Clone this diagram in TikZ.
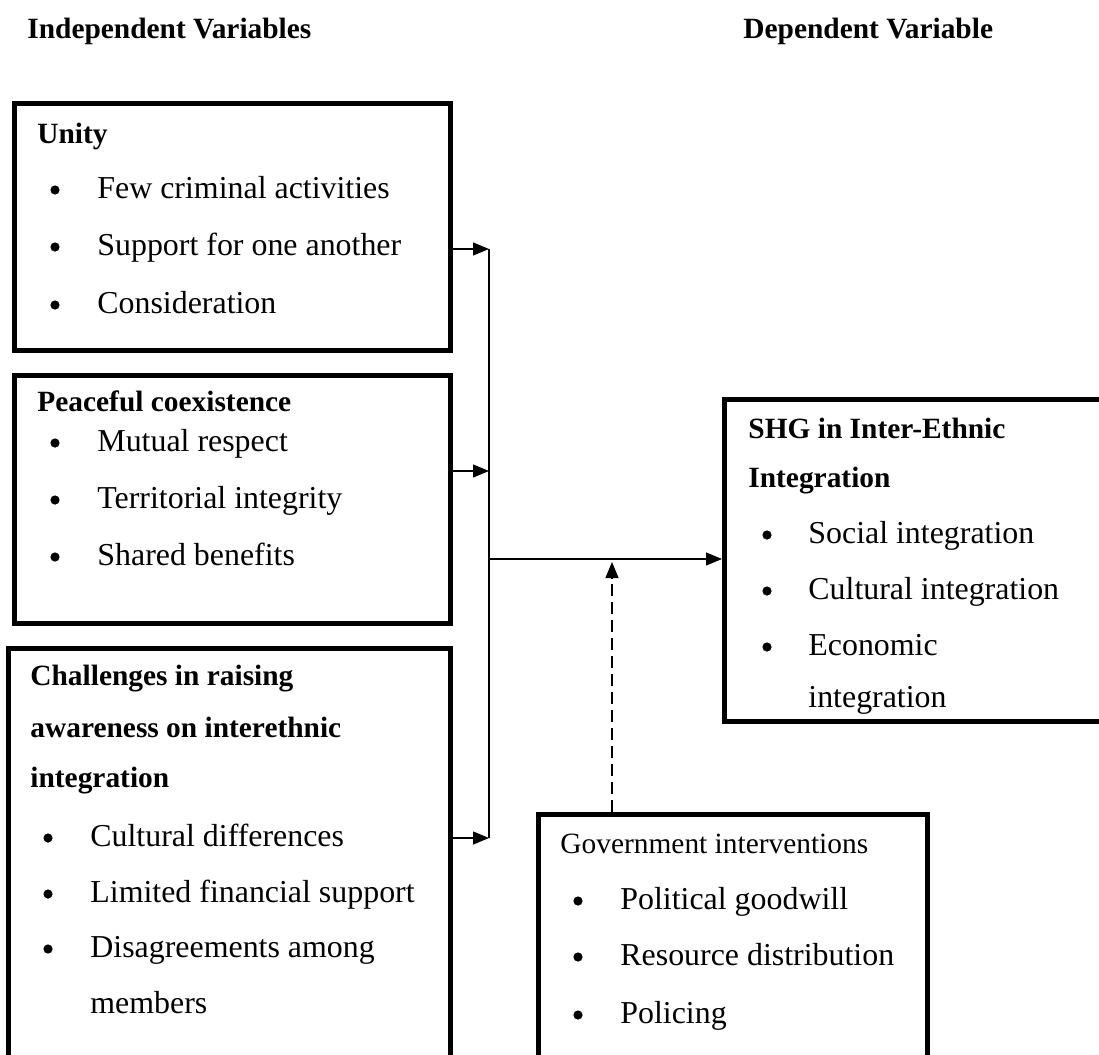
\documentclass[tikz,border=0pt]{standalone}
\usepackage{fontspec}
\setmainfont{Liberation Serif}
\usetikzlibrary{arrows.meta,fit}

\tikzset{
  box/.style={draw, line width=2.5pt, inner sep=0pt},
  lbl/.style={anchor=base west, inner sep=0pt, font=\fontsize{14.7}{17}\selectfont},
  item/.style={anchor=base west, inner sep=0pt, font=\fontsize{15.95}{19}\selectfont},
  head/.style={anchor=base west, inner sep=0pt, font=\fontsize{14.7}{17}\selectfont\bfseries},
  dot/.style={circle, fill, inner sep=0pt, minimum size=4.6pt, yshift=4pt},
  arr/.style={-{Triangle[length=8pt,width=6.5pt]}, line width=0.6pt},
}

\begin{document}
\begin{tikzpicture}[x=0.5pt, y=-0.5pt]
    \useasboundingbox (0,0) rectangle (1099,1055);
    \clip (0,0) rectangle (1099,1055);

    % headings
    \node[head] (indep) at (27,38) {Independent Variables};
    \node[head] (dep) at (743,38) {Dependent Variable};

    % boxes
    \node[box, fit={(14.5,103.5) (450,350)}] (unity) {};
    \node[box, fit={(14.5,375.5) (450,623)}] (peace) {};
    \node[box, fit={(8.5,648.5) (450,1100)}] (chall) {};
    \node[box, fit={(724.5,399.5) (1120,721)}] (shg) {};
    \node[box, fit={(538.5,814.5) (927.5,1100)}] (gov) {};

    % unity
    \node[head] (unity-t) at (37,143) {Unity};
    \foreach \y/\t [count=\i] in {198/Few criminal activities, 255/Support for one another, 313/Consideration} {
        \node[dot] (unity-b\i) at (55,\y) {};
        \node[item] (unity-\i) at (97,\y) {\t};
    }

    % peaceful coexistence
    \node[head] (peace-t) at (37,411) {Peaceful coexistence};
    \foreach \y/\t [count=\i] in {451/Mutual respect, 508/Territorial integrity, 565/Shared benefits} {
        \node[dot] (peace-b\i) at (55,\y) {};
        \node[item] (peace-\i) at (97,\y) {\t};
    }

    % challenges
    \node[head] (chall-t1) at (30,685) {Challenges in raising};
    \node[head] (chall-t2) at (30,737) {awareness on interethnic};
    \node[head] (chall-t3) at (30,787) {integration};
    \foreach \y/\t [count=\i] in {846/Cultural differences, 902/Limited financial support, 957/Disagreements among} {
        \node[dot] (chall-b\i) at (48,\y) {};
        \node[item] (chall-\i) at (90,\y) {\t};
    }
    \node[item] (chall-4) at (90,1013) {members};

    % SHG
    \node[head] (shg-t1) at (748,438) {SHG in Inter-Ethnic};
    \node[head] (shg-t2) at (748,487) {Integration};
    \foreach \y/\t [count=\i] in {543/Social integration, 599/Cultural integration, 655/Economic} {
        \node[dot] (shg-b\i) at (767,\y) {};
        \node[item] (shg-\i) at (808,\y) {\t};
    }
    \node[item] (shg-4) at (808,707) {integration};

    % government
    \node[lbl] (gov-t) at (560,853) {Government interventions};
    \foreach \y/\t [count=\i] in {909/Political goodwill, 965/Resource distribution, 1023/Policing} {
        \node[dot] (gov-b\i) at (578,\y) {};
        \node[item] (gov-\i) at (620,\y) {\t};
    }

    % connectors
    \coordinate (j1) at (489,249);
    \coordinate (j2) at (489,471);
    \coordinate (j3) at (489,838);
    \coordinate (jm) at (489,559);
    \coordinate (jd) at (612,562);

    \draw[arr] (unity.east |- j1) -- (j1);
    \draw[arr] (peace.east |- j2) -- (j2);
    \draw[arr] (chall.east |- j3) -- (j3);
    \draw[line width=0.6pt] (j1) -- (j3);
    \draw[arr] (jm) -- (shg.west |- jm);
    \draw[arr, dash pattern=on 6pt off 3pt] (gov.north -| jd) -- (jd);

\end{tikzpicture}
\end{document}
